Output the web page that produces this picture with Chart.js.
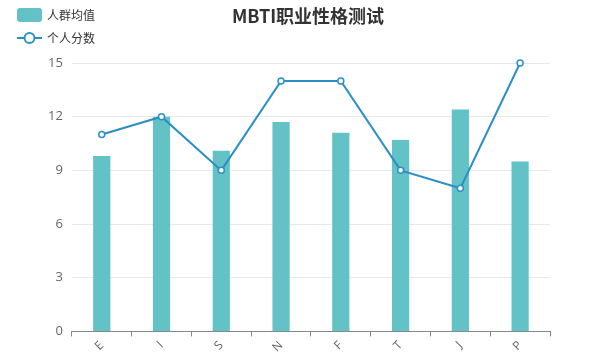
<!DOCTYPE html>
<html>
<head>
<meta charset="utf-8">
<script src="https://cdn.jsdelivr.net/npm/chart.js@4"></script>
<style>
  html, body { margin: 0; padding: 0; background: #fff; }
  #wrap { width: 600px; height: 361px; position: relative; }
</style>
</head>
<body>
<div id="wrap"><canvas id="mbtiChart"></canvas></div>
<script>
// Categories and values
const labels = ['E', 'I', 'S', 'N', 'F', 'T', 'J', 'P'];
const groupAverage = [9.8, 12.0, 10.1, 11.7, 11.1, 10.7, 12.4, 9.5];
const personalScore = [11, 12, 9, 14, 14, 9, 8, 15];
const yTicks = [0, 3, 6, 9, 12, 15];

const barColor = '#63c2c6';
const lineColor = '#2b8fc6';
const fontFamily = "'Open Sans', 'Noto Sans CJK SC', sans-serif";

// Title and stacked legend in the top left corner
const headerPlugin = {
  id: 'header',
  afterDraw(chart) {
    const ctx = chart.ctx;
    ctx.save();
    ctx.textBaseline = 'middle';

    ctx.fillStyle = '#333';
    ctx.font = "bold 18px 'Noto Sans CJK SC', sans-serif";
    ctx.textAlign = 'center';
    ctx.fillText('MBTI职业性格测试', 308, 16);

    ctx.textAlign = 'left';
    ctx.font = "12px 'Noto Sans CJK SC', sans-serif";

    ctx.fillStyle = barColor;
    ctx.beginPath();
    ctx.roundRect(17, 8, 25, 14, 3);
    ctx.fill();
    ctx.fillStyle = '#333';
    ctx.fillText('人群均值', 47, 15);

    ctx.strokeStyle = lineColor;
    ctx.lineWidth = 2;
    ctx.beginPath();
    ctx.moveTo(17, 38);
    ctx.lineTo(42, 38);
    ctx.stroke();
    ctx.fillStyle = '#fff';
    ctx.beginPath();
    ctx.arc(29.5, 38, 5, 0, Math.PI * 2);
    ctx.fill();
    ctx.stroke();
    ctx.fillStyle = '#333';
    ctx.fillText('个人分数', 47, 38);
    ctx.restore();
  },
};

new Chart(document.getElementById('mbtiChart'), {
  data: {
    labels,
    datasets: [
      {
        type: 'line',
        label: '个人分数',
        data: personalScore,
        borderColor: lineColor,
        borderWidth: 2,
        tension: 0,
        pointRadius: 3,
        pointBorderWidth: 1.5,
        pointBackgroundColor: '#fff',
        pointBorderColor: lineColor,
        clip: false,
        order: 0,
      },
      {
        type: 'bar',
        label: '人群均值',
        data: groupAverage,
        backgroundColor: barColor,
        categoryPercentage: 0.8,
        barPercentage: 0.36,
        order: 1,
      },
    ],
  },
  options: {
    responsive: true,
    maintainAspectRatio: false,
    animation: false,
    layout: {
      padding: { top: 63, left: 39, right: 50, bottom: 4 },
    },
    plugins: {
      legend: { display: false },
      title: { display: false },
      tooltip: { enabled: false },
    },
    scales: {
      x: {
        offset: true,
        ticks: {
          color: '#666',
          font: { family: fontFamily, size: 12 },
          minRotation: 45,
          maxRotation: 45,
          padding: 2,
        },
        grid: {
          offset: true,
          drawOnChartArea: false,
          drawTicks: true,
          tickLength: 5,
          color: '#888',
        },
        border: { display: true, color: '#888', width: 1 },
      },
      y: {
        min: 0,
        max: 15,
        afterBuildTicks(axis) {
          axis.ticks = yTicks.map((v) => ({ value: v }));
        },
        ticks: {
          color: '#666',
          font: { family: fontFamily, size: 13 },
          padding: 9,
        },
        grid: {
          color: '#e8e8e8',
          drawTicks: false,
        },
        border: { display: false },
      },
    },
  },
  plugins: [headerPlugin],
});
</script>
</body>
</html>
